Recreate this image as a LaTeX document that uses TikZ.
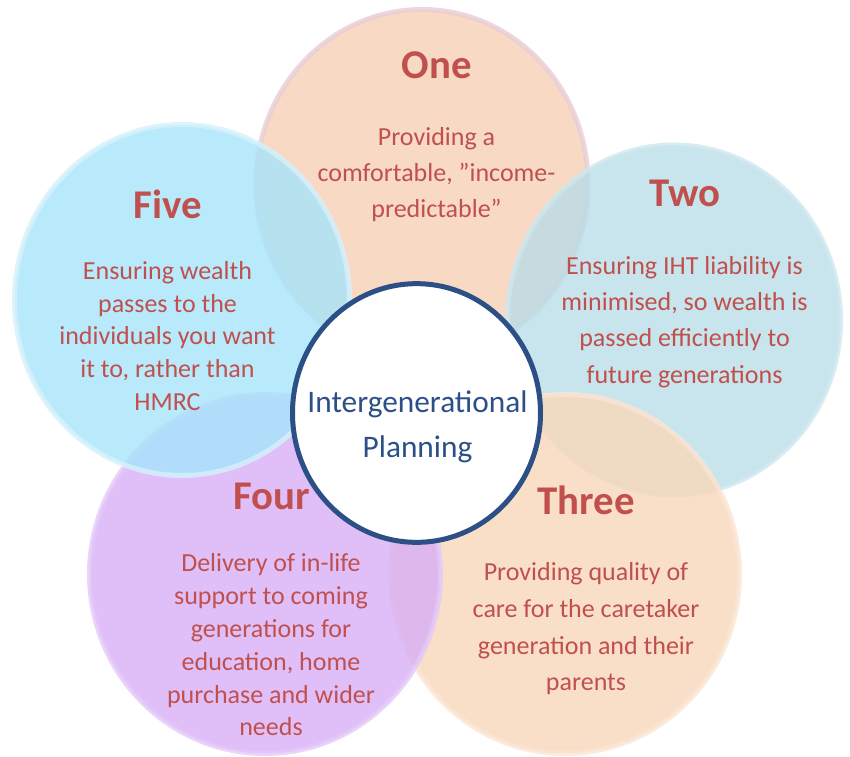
\documentclass[tikz,border=0pt]{standalone}
\usepackage{fontspec}
\setmainfont{Carlito}
\usetikzlibrary{shapes.geometric}

\definecolor{titlered}{RGB}{192,80,77}
\definecolor{hubblue}{RGB}{44,80,134}
\definecolor{peachA}{RGB}{245,208,181}
\definecolor{peachAline}{RGB}{233,205,214}
\definecolor{tealB}{RGB}{186,221,231}
\definecolor{tealBline}{RGB}{206,231,239}
\definecolor{peachC}{RGB}{249,215,186}
\definecolor{peachCline}{RGB}{251,229,211}
\definecolor{lilacD}{RGB}{216,174,246}
\definecolor{lilacDline}{RGB}{229,201,249}
\definecolor{skyE}{RGB}{166,229,251}
\definecolor{skyEline}{RGB}{214,241,251}

\begin{document}
\begin{tikzpicture}[x=0.75pt, y=-0.75pt, line join=round,
	petal/.style={ellipse, line width=3.75pt, fill opacity=0.8, draw opacity=0.8, inner sep=0pt},
	hub/.style={ellipse, draw=hubblue, fill=white, line width=3.75pt, inner sep=0pt},
	title/.style={font=\fontsize{30.6}{36}\selectfont\bfseries, text=titlered},
	body/.style={font=\fontsize{19.5}{#1}\selectfont, text=titlered, align=center},
	body/.default=24.6pt]
	\useasboundingbox (0,0) rectangle (850,757);

	% Năm cánh hoa
	\node[petal, fill=peachA, draw=peachAline, minimum width=249pt, minimum height=261.75pt] (one) at (422,184) {};
	\node[petal, fill=tealB, draw=tealBline, minimum width=249.75pt, minimum height=262.5pt] (two) at (674,320) {};
	\node[petal, fill=peachC, draw=peachCline, minimum width=261.75pt, minimum height=269.25pt] (three) at (565,574) {};
	\node[petal, fill=lilacD, draw=lilacDline, minimum width=263.25pt, minimum height=269.25pt] (four) at (265,574) {};
	\node[petal, fill=skyE, draw=skyEline, minimum width=251.25pt, minimum height=263.25pt] (five) at (182,300) {};

	% Vòng tròn trung tâm
	\node[hub, minimum width=186pt, minimum height=194pt] (hub) at (416.5,413) {};
	\node[font=\fontsize{23.5}{34}\selectfont, text=hubblue, align=center] (hub text) at (417.5,427) {Intergenerational\\Planning};

	% Tiêu đề
	\node[title] (one title) at (437,65.5) {One};
	\node[title] (two title) at (685,193) {Two};
	\node[title] (three title) at (586,500) {Three};
	\node[title] (four title) at (271.5,496) {Four};
	\node[title] (five title) at (168,204) {Five};

	% Nội dung
	\node[body=27pt] (one text) at (436.5,175) {Providing a\\comfortable, ”income-\\predictable”};
	\node[body=27.2pt] (two text) at (684.5,322) {Ensuring IHT liability is\\minimised, so wealth is\\passed efficiently to\\future generations};
	\node[body=27.5pt] (three text) at (586,629) {Providing quality of\\care for the caretaker\\generation and their\\parents};
	\node[body] (four text) at (271,645) {Delivery of in-life\\support to coming\\generations for\\education, home\\purchase and wider\\needs};
	\node[body] (five text) at (167.5,336) {Ensuring wealth\\passes to the\\individuals you want\\it to, rather than\\HMRC};
\end{tikzpicture}
\end{document}
